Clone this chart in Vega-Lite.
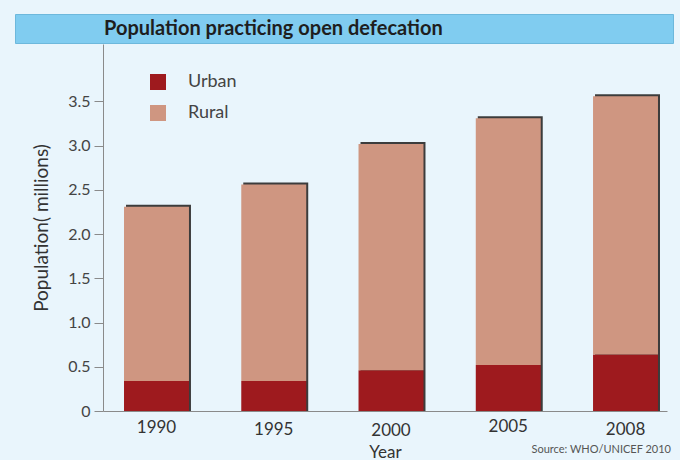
{
  "$schema": "https://vega.github.io/schema/vega-lite/v6.json",
  "background": "#e9f5fc",
  "padding": {"left": 14, "top": 13, "right": 8, "bottom": 0},
  "spacing": 0,
  "center": false,
  "config": {
    "font": "Lato",
    "view": {"stroke": null},
    "axis": {"grid": false}
  },
  "datasets": {
    "pop": [
      {"year": "1990", "type": "Urban", "value": 0.34},
      {"year": "1990", "type": "Rural", "value": 1.97},
      {"year": "1995", "type": "Urban", "value": 0.34},
      {"year": "1995", "type": "Rural", "value": 2.22},
      {"year": "2000", "type": "Urban", "value": 0.46},
      {"year": "2000", "type": "Rural", "value": 2.56},
      {"year": "2005", "type": "Urban", "value": 0.52},
      {"year": "2005", "type": "Rural", "value": 2.79},
      {"year": "2008", "type": "Urban", "value": 0.64},
      {"year": "2008", "type": "Rural", "value": 2.92}
    ]
  },
  "vconcat": [
    {
      "width": 658,
      "height": 29,
      "view": {"fill": "#80ccf0", "stroke": "#6db8dc"},
      "data": {"values": [{"label": "Population practicing open defecation"}]},
      "mark": {"type": "text", "align": "left", "baseline": "middle", "dx": -240, "dy": 0, "font": "Lato", "fontWeight": "bold", "fontSize": 20, "color": "#1e1e1e"},
      "encoding": {"text": {"field": "label"}}
    },
    {
      "width": 652,
      "height": 367,
      "data": {"name": "pop"},
      "title": {"text": "Source:  WHO/UNICEF 2010", "orient": "bottom", "anchor": "end", "fontSize": 11, "fontWeight": "normal", "color": "#555555", "offset": -16, "dx": 4},
      "encoding": {
        "x": {
          "field": "year", "type": "nominal", "sort": null,
          "scale": {"rangeMin": 88, "paddingInner": 0.446, "paddingOuter": 0.128, "align": 0.7},
          "axis": {"title": "Year", "labelAngle": 0, "ticks": false, "domainColor": "#8a8a8a",
            "labelPadding": {"condition": [{"test": "datum.value == '2000'", "value": 11}, {"test": "datum.value == '1995' || datum.value == '2008'", "value": 10}, {"test": "datum.value == '2005'", "value": 7}], "value": 8},
            "labelFontSize": 17, "labelColor": "#333333", "titleFontSize": 17, "titleFontWeight": "normal", "titleColor": "#333333", "titleX": 370, "titleY": 33, "titleBaseline": "top"}
        }
      },
      "layer": [
        {
          "mark": {"type": "bar", "color": "#3c3c3c", "xOffset": 2, "yOffset": -2},
          "encoding": {
            "y": {"aggregate": "sum", "field": "value", "type": "quantitative", "scale": {"domain": [0, 4.15], "nice": false},
              "axis": {"title": "Population( millions)", "offset": -88, "values": [0, 0.5, 1, 1.5, 2, 2.5, 3, 3.5], "labelExpr": "datum.value == 0 ? '0' : format(datum.value, '.1f')", "domainColor": "#8a8a8a", "tickColor": "#8a8a8a", "tickSize": 9, "labelPadding": 4, "labelFontSize": 16, "labelColor": "#444444", "titleFontSize": 19, "titleFontWeight": "normal", "titleColor": "#333333", "titleX": -52}}
          }
        },
        {
          "mark": {"type": "bar"},
          "encoding": {
            "y": {
              "field": "value", "type": "quantitative", "stack": "zero",
              "scale": {"domain": [0, 4.15], "nice": false},
              "axis": {"title": "Population( millions)", "offset": -88, "values": [0, 0.5, 1, 1.5, 2, 2.5, 3, 3.5], "labelExpr": "datum.value == 0 ? '0' : format(datum.value, '.1f')", "domainColor": "#8a8a8a", "tickColor": "#8a8a8a", "tickSize": 9, "labelPadding": 4, "labelFontSize": 16, "labelColor": "#444444", "titleFontSize": 19, "titleFontWeight": "normal", "titleColor": "#333333", "titleX": -52}
            },
            "color": {
              "field": "type", "type": "nominal",
              "scale": {"domain": ["Urban", "Rural"], "range": ["#9e1a1e", "#cf9681"]},
              "legend": {"title": null, "orient": "none", "legendX": 134, "legendY": 59, "symbolType": "square", "symbolSize": 256, "symbolOpacity": 1, "labelFontSize": 18, "labelColor": "#444444", "labelOffset": 21, "rowPadding": 13}
            },
            "order": {"field": "type", "sort": "descending"}
          }
        }
      ]
    }
  ]
}
